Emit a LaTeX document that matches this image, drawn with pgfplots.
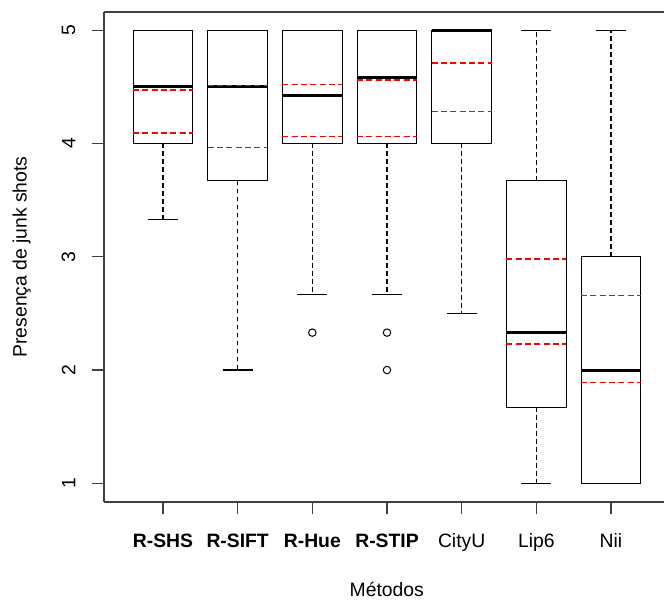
\documentclass[border=0pt]{standalone}
\usepackage{pgfplots}
\pgfplotsset{compat=1.18}
\usepgfplotslibrary{statistics}
\usepackage{fontspec}
\setmainfont{Liberation Sans}
\newcommand{\lblfont}{\fontsize{14.5}{17}\selectfont}
\definecolor{rred}{RGB}{255,0,0}
\begin{document}
\begin{tikzpicture}
\begin{axis}[
  name=ax,
  scale only axis,
  width=420pt, height=367.5pt,
  xmin=0.21, xmax=7.71,
  ymin=0.835, ymax=5.16,
  axis x line*=box, axis y line*=left,
  axis line style={-, black!75, line width=0.8pt},
  tick align=outside,
  major tick length=9pt,
  tick style={black!75, line width=0.8pt},
  xtick={1,2,3,4,5,6,7},
  xtick pos=bottom, ytick pos=left,
  xticklabels={\textbf{R-SHS},\textbf{R-SIFT},\textbf{R-Hue},\textbf{R-STIP},CityU,Lip6,Nii},
  ytick={1,2,3,4,5},
  /pgf/number format/assume math mode=true,
  ticklabel style={font=\lblfont},
  xticklabel style={text height=10.5pt, text depth=3pt},
  xticklabel shift=11pt,
  yticklabel shift=9pt,
  yticklabel style={rotate=90, anchor=south},
  xlabel={Métodos},
  ylabel={Presença de junk shots},
  every axis x label/.style={at={([yshift=-71pt]axis description cs:0.505,0)}, anchor=base, font=\lblfont},
  every axis y label/.style={at={([xshift=-58pt]axis description cs:0,0.5)}, rotate=90, anchor=base, font=\lblfont},
  boxplot/draw direction=y,
  boxplot/box extend=0.8,
  boxplot/whisker extend=0.4,
  boxplot/every median/.style={line width=2.25pt},
  boxplot/draw/lower whisker/.code={
    \draw[dash pattern=on 3.5pt off 2.5pt, line width=0.9pt]
      (boxplot box cs:\pgfplotsboxplotvalue{lower quartile},0.5) --
      (boxplot box cs:\pgfplotsboxplotvalue{lower whisker},0.5);
    \draw (boxplot whisker cs:\pgfplotsboxplotvalue{lower whisker},0) --
      (boxplot whisker cs:\pgfplotsboxplotvalue{lower whisker},1);
  },
  boxplot/draw/upper whisker/.code={
    \draw[dash pattern=on 3.5pt off 2.5pt, line width=0.9pt]
      (boxplot box cs:\pgfplotsboxplotvalue{upper quartile},0.5) --
      (boxplot box cs:\pgfplotsboxplotvalue{upper whisker},0.5);
    \draw (boxplot whisker cs:\pgfplotsboxplotvalue{upper whisker},0) --
      (boxplot whisker cs:\pgfplotsboxplotvalue{upper whisker},1);
  },
]
\pgfplotsset{bp/.style={black, solid, line width=0.8pt, mark=o, mark size=2.8pt, mark options={solid, black, line width=0.75pt}}}
% R-SHS
\addplot[bp, boxplot prepared={draw position=1, lower whisker=3.33, lower quartile=4, median=4.5, upper quartile=5, upper whisker=5}] coordinates {};
% R-SIFT
\addplot[bp, boxplot prepared={draw position=2, lower whisker=2, lower quartile=3.67, median=4.5, upper quartile=5, upper whisker=5}] coordinates {};
% R-Hue
\addplot[bp, boxplot prepared={draw position=3, lower whisker=2.67, lower quartile=4, median=4.42, upper quartile=5, upper whisker=5}] table[row sep=\\, y index=0] {data\\ 2.33\\};
% R-STIP
\addplot[bp, boxplot prepared={draw position=4, lower whisker=2.67, lower quartile=4, median=4.58, upper quartile=5, upper whisker=5}] table[row sep=\\, y index=0] {data\\ 2.33\\ 2\\};
% CityU
\addplot[bp, boxplot prepared={draw position=5, lower whisker=2.5, lower quartile=4, median=5, upper quartile=5, upper whisker=5}] coordinates {};
% Lip6
\addplot[bp, boxplot prepared={draw position=6, lower whisker=1, lower quartile=1.67, median=2.33, upper quartile=3.67, upper whisker=5}] coordinates {};
% Nii
\addplot[bp, boxplot prepared={draw position=7, lower whisker=1, lower quartile=1, median=2, upper quartile=3, upper whisker=5}] coordinates {};
% red dashed lines
\pgfplotsset{rl/.style={draw=rred, line width=1.1pt, dash pattern=on 4.5pt off 2.5pt, mark=none, forget plot}}
\addplot[rl] coordinates {(0.6,4.47) (1.4,4.47)};
\addplot[rl] coordinates {(0.6,4.09) (1.4,4.09)};
\addplot[rl] coordinates {(1.6,4.51) (2.4,4.51)};
\addplot[rl] coordinates {(1.6,3.965) (2.4,3.965)};
\addplot[rl] coordinates {(2.6,4.52) (3.4,4.52)};
\addplot[rl] coordinates {(2.6,4.06) (3.4,4.06)};
\addplot[rl] coordinates {(3.6,4.56) (4.4,4.56)};
\addplot[rl] coordinates {(3.6,4.06) (4.4,4.06)};
\addplot[rl] coordinates {(4.6,4.71) (5.4,4.71)};
\addplot[rl] coordinates {(4.6,4.28) (5.4,4.28)};
\addplot[rl] coordinates {(5.6,2.98) (6.4,2.98)};
\addplot[rl] coordinates {(5.6,2.23) (6.4,2.23)};
\addplot[rl] coordinates {(6.6,2.66) (7.4,2.66)};
\addplot[rl] coordinates {(6.6,1.89) (7.4,1.89)};
\end{axis}
\pgfresetboundingbox
\path ([xshift=-78pt,yshift=-73.5pt]ax.south west) rectangle ([yshift=9pt]ax.north east);
\end{tikzpicture}
\end{document}
